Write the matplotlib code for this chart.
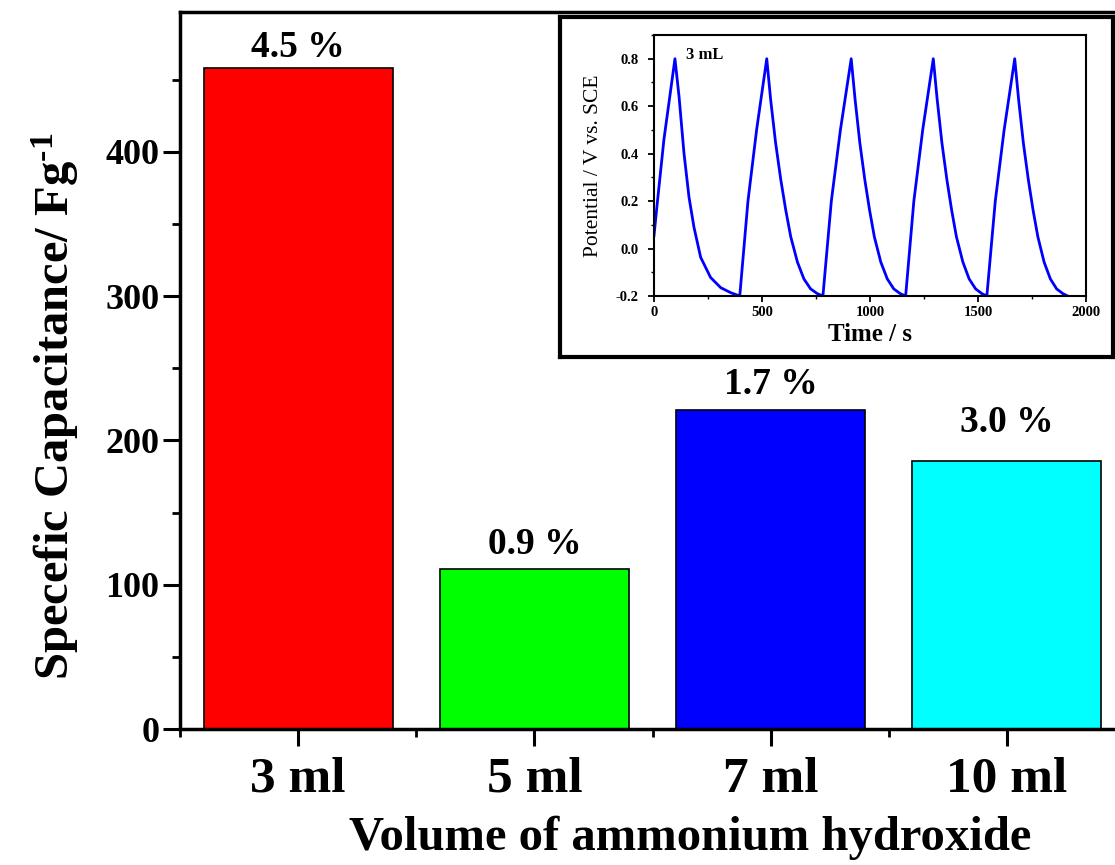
import matplotlib
matplotlib.use("Agg")
import matplotlib.pyplot as plt
from matplotlib.ticker import MultipleLocator, FormatStrFormatter

# ---------------- data ----------------
categories = ["3 ml", "5 ml", "7 ml", "10 ml"]
capacitance = [458, 111, 221, 186]
bar_colors = ["#ff0000", "#00ff00", "#0000ff", "#00ffff"]
percent_labels = ["4.5 %", "0.9 %", "1.7 %", "3.0 %"]
percent_label_y = [466, 121, 232, 206]
y_ticks = [0, 100, 200, 300, 400]

gcd_time = [0, 15, 46, 97,
            116, 139, 162, 185, 216, 262, 309, 355, 397,
            435, 475, 522,
            540, 563, 587, 610, 633, 664, 694, 725, 756, 782,
            821, 863, 913,
            931, 953, 976, 998, 1020, 1050, 1080, 1110, 1140, 1165,
            1203, 1244, 1293,
            1311, 1333, 1356, 1378, 1400, 1430, 1459, 1489, 1518, 1541,
            1580, 1621, 1670,
            1688, 1710, 1733, 1755, 1777, 1806, 1835, 1864, 1893, 1915]
gcd_potential = [0.055, 0.19, 0.46, 0.80,
                 0.64, 0.40, 0.217, 0.09, -0.037, -0.122, -0.165, -0.186, -0.20,
                 0.20, 0.50, 0.80,
                 0.628, 0.445, 0.29, 0.162, 0.05, -0.057, -0.128, -0.17, -0.19, -0.20,
                 0.20, 0.50, 0.80,
                 0.628, 0.445, 0.29, 0.162, 0.05, -0.057, -0.128, -0.17, -0.19, -0.20,
                 0.20, 0.50, 0.80,
                 0.628, 0.445, 0.29, 0.162, 0.05, -0.057, -0.128, -0.17, -0.19, -0.20,
                 0.20, 0.50, 0.80,
                 0.628, 0.445, 0.29, 0.162, 0.05, -0.057, -0.128, -0.17, -0.19, -0.20]
inset_label = "3 mL"

# ---------------- style ----------------
plt.rcParams["font.family"] = ["Liberation Serif", "DejaVu Serif"]
plt.rcParams["font.weight"] = "bold"
plt.rcParams["mathtext.fontset"] = "custom"
plt.rcParams["mathtext.rm"] = "Liberation Serif:bold"
plt.rcParams["mathtext.bf"] = "Liberation Serif:bold"
plt.rcParams["mathtext.default"] = "rm"

fig = plt.figure(figsize=(11.15, 8.65), dpi=100)
fig.patch.set_facecolor("white")

# main axes
ax = fig.add_axes([180/1115, 1-729/865, (1125-180)/1115, (729-12)/865])
x = list(range(len(categories)))
ax.bar(x, capacitance, width=0.8, color=bar_colors, edgecolor="black", linewidth=1.2, zorder=2)
for xi, lab, ly in zip(x, percent_labels, percent_label_y):
    ax.text(xi, ly, lab, ha="center", va="baseline", fontsize=27, fontweight="bold")

ax.set_xlim(-0.5, 3.5)
ax.set_ylim(0, 497)
ax.set_xticks(x)
ax.set_xticklabels(categories)
ax.set_xticks([-0.5, 0.5, 1.5, 2.5], minor=True)
ax.set_yticks(y_ticks)
ax.yaxis.set_minor_locator(MultipleLocator(50))
ax.tick_params(axis="both", which="major", direction="out", length=12, width=2.2)
ax.tick_params(axis="both", which="minor", direction="out", length=6, width=2.0)
ax.tick_params(axis="x", which="major", labelsize=37, pad=8)
ax.tick_params(axis="y", which="major", labelsize=26, pad=3)
for lab in ax.get_xticklabels() + ax.get_yticklabels():
    lab.set_fontweight("bold")
for s in ["left", "bottom", "top"]:
    ax.spines[s].set_linewidth(2.5)
ax.spines["right"].set_visible(False)

ax.set_xlabel("Volume of ammonium hydroxide", fontsize=35, fontweight="bold")
ax.xaxis.set_label_coords((690-180)/945, (729-816)/717)
ax.set_ylabel(r"Specefic Capacitance/ Fg$^{\text{-1}}$", fontsize=35, fontweight="bold")
ax.yaxis.set_label_coords((81-180)/945, (729-406)/717)

# inset frame
frame = fig.add_axes([560/1115, 1-357/865, (1113-560)/1115, (357-17)/865])
frame.set_xticks([])
frame.set_yticks([])
frame.set_facecolor("white")
for s in frame.spines.values():
    s.set_linewidth(3)
    s.set_color("black")

# inset axes
ins = fig.add_axes([654/1115, 1-296/865, (1086-654)/1115, (296-35)/865])
ins.plot(gcd_time, gcd_potential, color="#0000ff", linewidth=2)
ins.set_xlim(0, 2000)
ins.set_ylim(-0.2, 0.9)
ins.set_xticks([0, 500, 1000, 1500, 2000])
ins.set_yticks([-0.2, 0.0, 0.2, 0.4, 0.6, 0.8])
ins.xaxis.set_minor_locator(MultipleLocator(250))
ins.yaxis.set_minor_locator(MultipleLocator(0.1))
ins.tick_params(axis="both", which="major", direction="out", length=4, width=1.3, labelsize=10.5, pad=3)
ins.tick_params(axis="y", which="major", pad=7)
ins.tick_params(axis="both", which="minor", direction="out", length=2.5, width=1.0)
for lab in ins.get_xticklabels() + ins.get_yticklabels():
    lab.set_fontweight("bold")
ins.yaxis.set_major_formatter(FormatStrFormatter("%.1f"))
for s in ins.spines.values():
    s.set_linewidth(1.5)
ins.set_xlabel("Time / s", fontsize=18, fontweight="bold", labelpad=3)
ins.set_ylabel("Potential / V vs. SCE", fontsize=15.5, fontweight="normal", labelpad=9)
ins.text(0.073, 0.955, inset_label, transform=ins.transAxes, fontsize=12, fontweight="bold",
         ha="left", va="top")

fig.savefig("out.png", dpi=100, facecolor="white")
